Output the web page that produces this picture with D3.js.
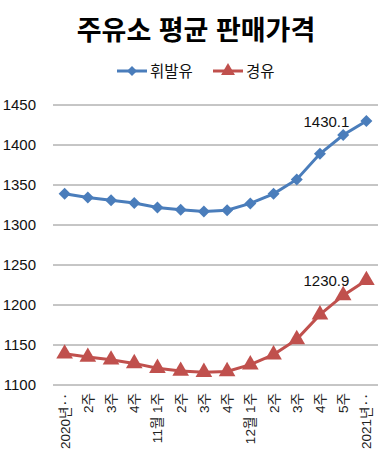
<!DOCTYPE html>
<html>
<head>
<meta charset="utf-8">
<script src="https://cdn.jsdelivr.net/npm/d3@7"></script>
<style>
  body { margin: 0; background: #fff; }
  text { font-family: "Liberation Sans", "Noto Sans CJK KR", sans-serif; }
</style>
</head>
<body>
<div class="chart"></div>
<script>
const weeks = ["2020년‥", "2주", "3주", "4주", "11월 1주", "2주", "3주", "4주",
  "12월 1주", "2주", "3주", "4주", "5주", "2021년‥"];
const gasoline = [1339, 1334.5, 1331, 1327.5, 1322, 1319, 1317, 1318.5, 1327, 1339, 1357, 1389, 1412.5, 1430.1];
const diesel = [1139, 1135, 1131.5, 1127, 1121, 1117.5, 1116, 1117, 1125.5, 1138, 1157, 1188, 1212, 1230.9];
const yTicks = [1100, 1150, 1200, 1250, 1300, 1350, 1400, 1450];

const width = 386, height = 456;
const margin = { top: 105, bottom: 71, left: 53, right: 8 };

const svg = d3.select(".chart").append("svg")
  .attr("width", width)
  .attr("height", height);

const x = d3.scalePoint()
  .domain(d3.range(weeks.length))
  .range([margin.left, width - margin.right])
  .padding(0.5);

const y = d3.scaleLinear()
  .domain([1100, 1450])
  .range([height - margin.bottom, margin.top]);

// title
svg.append("text")
  .attr("x", 196).attr("y", 40)
  .attr("text-anchor", "middle")
  .attr("font-family", "Noto Sans CJK KR")
  .attr("font-weight", "bold")
  .attr("font-size", 27)
  .text("주유소 평균 판매가격");

// grid
svg.append("g")
  .selectAll("line")
  .data(yTicks)
  .join("line")
  .attr("x1", margin.left).attr("x2", width - margin.right)
  .attr("y1", d => y(d)).attr("y2", d => y(d))
  .attr("stroke", "#8c8c8c").attr("stroke-width", 1);

// y labels
svg.append("g")
  .selectAll("text")
  .data(yTicks)
  .join("text")
  .attr("x", 36).attr("y", d => y(d) + 5)
  .attr("text-anchor", "end")
  .attr("font-size", 15)
  .attr("fill", "#111")
  .text(d => d);

// x labels
svg.append("g")
  .selectAll("text")
  .data(weeks)
  .join("text")
  .attr("transform", (d, i) => `translate(${x(i) + 5},${y(1100) + 8}) rotate(-90)`)
  .attr("text-anchor", "end")
  .attr("font-family", "Noto Sans CJK KR")
  .attr("font-size", 13.5)
  .attr("fill", "#222")
  .text(d => d);

const series = [
  { name: "휘발유", values: gasoline, color: "#4a7dbb", shape: d3.symbolSquare, size: 72, rot: 45 },
  { name: "경유", values: diesel, color: "#c0504d", shape: d3.symbolTriangle, size: 120, rot: 0 }
];

const line = d3.line().x((d, i) => x(i)).y(d => y(d));

series.forEach(s => {
  svg.append("path")
    .datum(s.values)
    .attr("d", line)
    .attr("fill", "none")
    .attr("stroke", s.color)
    .attr("stroke-width", 3);

  svg.append("g")
    .selectAll("path")
    .data(s.values)
    .join("path")
    .attr("transform", (d, i) => `translate(${x(i)},${y(d)}) rotate(${s.rot})`)
    .attr("d", d3.symbol().type(s.shape).size(s.size)())
    .attr("fill", s.color);

  const last = s.values.length - 1;
  svg.append("text")
    .attr("x", x(last) - 17).attr("y", y(s.values[last]) + 6)
    .attr("text-anchor", "end")
    .attr("font-size", 15)
    .attr("fill", "#111")
    .text(s.values[last]);
});

// legend
const legend = svg.append("g")
  .selectAll("g")
  .data(series)
  .join("g")
  .attr("transform", (d, i) => `translate(${i === 0 ? 117 : 213},71)`);

legend.append("line")
  .attr("x1", 0).attr("x2", 30)
  .attr("stroke", d => d.color).attr("stroke-width", 3);

legend.append("path")
  .attr("transform", d => `translate(15,0) rotate(${d.rot})`)
  .attr("d", d => d3.symbol().type(d.shape).size(d.size * 0.7)())
  .attr("fill", d => d.color);

legend.append("text")
  .attr("x", 33).attr("y", 6)
  .attr("font-family", "Noto Sans CJK KR")
  .attr("font-size", 15.5)
  .attr("fill", "#111")
  .text(d => d.name);
</script>
</body>
</html>
